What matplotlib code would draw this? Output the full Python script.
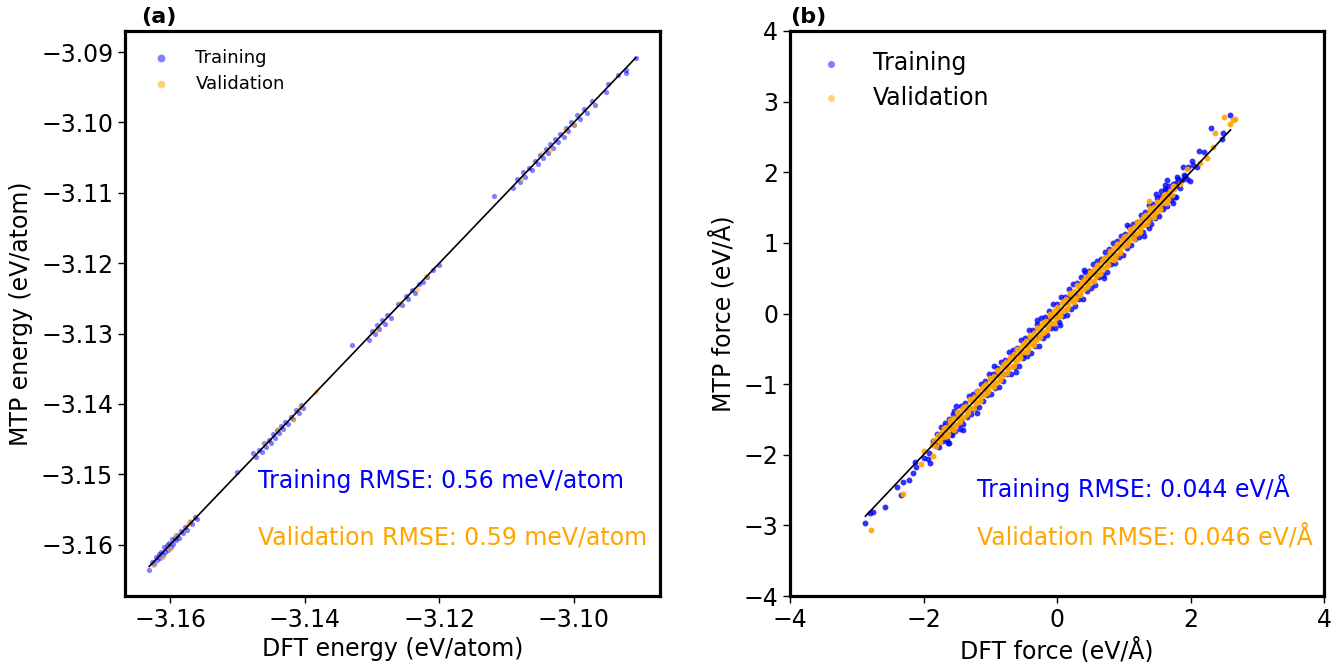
import matplotlib
matplotlib.use("Agg")
import matplotlib.pyplot as plt
import numpy as np

# ---------------- Panel (a): energies (eV/atom) ----------------
train_a_dft = [-3.1631, -3.1627, -3.1624, -3.1621, -3.1619, -3.1617, -3.1615, -3.1613, -3.1611,
               -3.1609, -3.1607, -3.1605, -3.1603, -3.1601, -3.1599, -3.1597, -3.1595, -3.1593,
               -3.1591, -3.1589, -3.1587, -3.1584, -3.1581, -3.1578, -3.1575, -3.1571, -3.1567,
               -3.1563, -3.1560,
               -3.1500,
               -3.1477, -3.1472, -3.1468, -3.1464, -3.1460, -3.1457, -3.1453, -3.1450, -3.1447,
               -3.1444, -3.1441, -3.1438, -3.1435, -3.1432, -3.1429, -3.1425, -3.1421, -3.1417,
               -3.1413, -3.1409, -3.1405, -3.1403,
               -3.1330, -3.1305, -3.1300, -3.1296, -3.1292, -3.1289, -3.1285, -3.1281, -3.1277,
               -3.1272, -3.1262, -3.1255, -3.1250, -3.1246, -3.1241, -3.1236, -3.1230, -3.1224,
               -3.1218, -3.1210, -3.1200,
               -3.1118, -3.1090, -3.1085, -3.1080, -3.1076, -3.1072, -3.1067, -3.1062, -3.1058,
               -3.1054, -3.1050, -3.1046, -3.1042, -3.1038, -3.1035, -3.1031, -3.1028, -3.1024,
               -3.1020, -3.1015, -3.1012, -3.1008, -3.1004, -3.1000, -3.0995, -3.0991, -3.0985,
               -3.0980, -3.0973, -3.0968, -3.0952, -3.0950, -3.0935, -3.0922, -3.0922, -3.0908]
train_a_mtp = [-3.1636, -3.1625, -3.1628, -3.1617, -3.1622, -3.1613, -3.1619, -3.1610, -3.1615,
               -3.1604, -3.1611, -3.1601, -3.1607, -3.1598, -3.1603, -3.1592, -3.1599, -3.1590,
               -3.1594, -3.1586, -3.1591, -3.1581, -3.1584, -3.1575, -3.1579, -3.1568, -3.1570,
               -3.1561, -3.1564,
               -3.1497,
               -3.1470, -3.1476, -3.1466, -3.1469, -3.1455, -3.1461, -3.1451, -3.1455, -3.1443,
               -3.1449, -3.1437, -3.1442, -3.1431, -3.1436, -3.1425, -3.1429, -3.1418, -3.1421,
               -3.1409, -3.1413, -3.1402, -3.1406,
               -3.1316, -3.1309, -3.1296, -3.1301, -3.1288, -3.1293, -3.1281, -3.1286, -3.1273,
               -3.1278, -3.1258, -3.1260, -3.1246, -3.1251, -3.1238, -3.1243, -3.1229, -3.1227,
               -3.1220, -3.1209, -3.1203,
               -3.1105, -3.1093, -3.1080, -3.1084, -3.1070, -3.1077, -3.1064, -3.1068, -3.1055,
               -3.1059, -3.1046, -3.1051, -3.1038, -3.1043, -3.1031, -3.1036, -3.1024, -3.1028,
               -3.1016, -3.1020, -3.1008, -3.1012, -3.1000, -3.1004, -3.0990, -3.0995, -3.0981,
               -3.0986, -3.0970, -3.0975, -3.0957, -3.0945, -3.0932, -3.0925, -3.0929, -3.0909]
valid_a_dft = [-3.1625, -3.1611, -3.1600, -3.1592, -3.1573, -3.1571,
               -3.1459, -3.1440, -3.1418, -3.1407, -3.1383,
               -3.1294, -3.1258, -3.1233, -3.1220,
               -3.1078, -3.1048, -3.1035, -3.1013, -3.1000]
valid_a_mtp = [-3.1629, -3.1617, -3.1606, -3.1587, -3.1571, -3.1566,
               -3.1456, -3.1435, -3.1421, -3.1405, -3.1383,
               -3.1297, -3.1256, -3.1236, -3.1218,
               -3.1080, -3.1044, -3.1039, -3.1010, -3.1004]
line_a = [-3.1631, -3.0908]

# ---------------- Panel (b): forces (eV/Å) ----------------
train_b_dft = [
    # isolated points at the ends of the band
    -2.87, -2.75, -2.80, -2.58, -2.39, -2.30, -2.22, -2.33, -2.15, -2.11, -2.13,
    -1.90, -1.93, -1.99, -1.68, -1.41, -1.58, -1.63, -1.80,
    2.59, 2.30, 2.48, 2.47, 2.12, 2.20, 2.02, 2.04, 1.97, 2.09, 1.89, 1.82, 1.87,
    1.99, 1.78, 1.92, 1.65, 1.62, 1.64, 1.69, 1.74, 1.78,
    # upper edge of the band
    -1.80, -1.74, -1.68, -1.62, -1.56, -1.50, -1.44, -1.38, -1.32, -1.26, -1.20, -1.14,
    -1.08, -1.02, -0.96, -0.90, -0.84, -0.78, -0.72, -0.66, -0.60, -0.54, -0.48, -0.42,
    -0.36, -0.30, -0.24, -0.18, -0.12, -0.06, 0.00, 0.06, 0.12, 0.18, 0.24, 0.30, 0.36,
    0.42, 0.48, 0.54, 0.60, 0.66, 0.72, 0.78, 0.84, 0.90, 0.96, 1.02, 1.08, 1.14, 1.20,
    1.26, 1.32, 1.38, 1.44, 1.50, 1.56, 1.62, 1.68, 1.74, 1.80,
    # lower edge of the band
    -1.77, -1.71, -1.65, -1.59, -1.53, -1.47, -1.41, -1.35, -1.29, -1.23, -1.17, -1.11,
    -1.05, -0.99, -0.93, -0.87, -0.81, -0.75, -0.69, -0.63, -0.57, -0.51, -0.45, -0.39,
    -0.33, -0.27, -0.21, -0.15, -0.09, -0.03, 0.03, 0.09, 0.15, 0.21, 0.27, 0.33, 0.39,
    0.45, 0.51, 0.57, 0.63, 0.69, 0.75, 0.81, 0.87, 0.93, 0.99, 1.05, 1.11, 1.17, 1.23,
    1.29, 1.35, 1.41, 1.47, 1.53, 1.59, 1.65, 1.71, 1.77,
    # core of the band
    -1.92, -1.86, -1.81, -1.74, -1.69, -1.62, -1.57, -1.50, -1.44, -1.36, -1.28,
    -1.18, -1.05, -0.92, -0.80, -0.66, -0.53, -0.40, -0.27, -0.12, 0.02, 0.17,
    0.31, 0.46, 0.60, 0.74, 0.88, 1.02, 1.15, 1.28, 1.40, 1.50, 1.58, 1.65, 1.71,
    1.78, 1.84, 1.90, 1.95,
    # stray points
    -1.52, -1.20, -0.95, -0.62, -0.30, 0.05, 0.40, 0.70, 1.05, 1.30, -1.62, 1.48,
    -1.46, -1.55, 1.56, 1.38]
train_b_mtp = [
    -2.96, -2.81, -2.83, -2.74, -2.46, -2.39, -2.36, -2.57, -2.26, -2.18, -2.10,
    -2.11, -2.06, -2.04, -1.55, -1.65, -1.72, -1.84, -1.86,
    2.81, 2.62, 2.56, 2.47, 2.30, 2.28, 2.16, 2.10, 2.07, 2.07, 2.07, 1.91, 1.89,
    1.87, 1.80, 1.94, 1.89, 1.82, 1.75, 1.68, 1.56, 1.65,
    -1.70, -1.61, -1.59, -1.50, -1.42, -1.40, -1.31, -1.27, -1.17, -1.14, -1.10, -1.00,
    -0.96, -0.86, -0.85, -0.77, -0.69, -0.66, -0.55, -0.52, -0.49, -0.38, -0.35, -0.24,
    -0.24, -0.15, -0.07, -0.05, 0.04, 0.13, 0.14, 0.23, 0.24, 0.34, 0.42, 0.43, 0.51,
    0.59, 0.60, 0.70, 0.74, 0.77, 0.87, 0.91, 1.00, 1.02, 1.10, 1.13, 1.23, 1.27, 1.30,
    1.40, 1.44, 1.53, 1.55, 1.63, 1.66, 1.76, 1.80, 1.84, 1.93,
    -1.89, -1.80, -1.79, -1.70, -1.66, -1.57, -1.56, -1.47, -1.43, -1.34, -1.33, -1.24,
    -1.15, -1.14, -1.05, -1.04, -0.95, -0.86, -0.85, -0.76, -0.75, -0.63, -0.60, -0.56,
    -0.46, -0.46, -0.35, -0.31, -0.21, -0.21, -0.12, -0.04, -0.02, 0.07, 0.11, 0.21, 0.21,
    0.32, 0.36, 0.40, 0.51, 0.55, 0.59, 0.70, 0.72, 0.80, 0.83, 0.93, 0.97, 1.06, 1.08,
    1.16, 1.25, 1.27, 1.35, 1.38, 1.48, 1.52, 1.61, 1.65,
    -1.97, -1.80, -1.88, -1.70, -1.76, -1.58, -1.64, -1.45, -1.52, -1.31, -1.35,
    -1.14, -1.11, -0.86, -0.86, -0.60, -0.59, -0.34, -0.33, -0.07, -0.04, 0.22,
    0.25, 0.52, 0.55, 0.80, 0.82, 1.08, 1.09, 1.34, 1.34, 1.57, 1.52, 1.71, 1.66,
    1.85, 1.78, 1.96, 1.90,
    -1.31, -1.41, -0.74, -0.83, -0.09, -0.16, 0.61, 0.50, 1.26, 1.10, -1.84, 1.69,
    -1.64, -1.38, 1.74, 1.21]
valid_b_dft = [
    -2.78, -2.31, -2.04, -1.86, -1.99,
    2.50, 2.64, 2.67, 2.59, 2.36, 2.33, 2.24, 2.14, 1.95, 1.38, 1.74,
    -1.84, -1.78, -1.72, -1.66, -1.60, -1.54, -1.48, -1.42, -1.36, -1.30, -1.24,
    -1.18, -1.12, -1.06, -1.00, -0.94, -0.88, -0.82, -0.76, -0.70, -0.64, -0.58,
    -0.52, -0.46, -0.40, -0.34, -0.28, -0.22, -0.16, -0.10, -0.04, 0.02, 0.08,
    0.14, 0.20, 0.26, 0.32, 0.38, 0.44, 0.50, 0.56, 0.62, 0.68, 0.74, 0.80, 0.86,
    0.92, 0.98, 1.04, 1.10, 1.16, 1.22, 1.28, 1.34, 1.40, 1.46, 1.52, 1.58, 1.64,
    1.70, 1.76,
    -1.81, -1.75, -1.69, -1.63, -1.57, -1.51, -1.45, -1.39, -1.33, -1.27, -1.21,
    -1.15, -1.09, -1.03, -0.97, -0.91, -0.85, -0.79, -0.73, -0.67, -0.61, -0.55,
    -0.49, -0.43, -0.37, -0.31, -0.25, -0.19, -0.13, -0.07, -0.01, 0.05, 0.11,
    0.17, 0.23, 0.29, 0.35, 0.41, 0.47, 0.53, 0.59, 0.65, 0.71, 0.77, 0.83, 0.89,
    0.95, 1.01, 1.07, 1.13, 1.19, 1.25, 1.31, 1.37, 1.43, 1.49, 1.55, 1.61, 1.67,
    1.73,
    -1.87, -1.76, -1.66, -1.56, -1.46, -1.35, -1.25, -1.15, -1.05, -0.95, -0.85,
    -0.75, -0.65, -0.55, -0.45, -0.35, -0.25, -0.15, -0.05, 0.05, 0.15, 0.25,
    0.35, 0.45, 0.55, 0.65, 0.75, 0.85, 0.95, 1.05, 1.15, 1.25, 1.35, 1.45, 1.55,
    1.65, 1.75, 1.85,
    -1.70, -1.60, -1.50, -1.40, -1.30, -1.20, -1.10, -1.00, -0.90, -0.80, -0.70,
    -0.60, -0.50, -0.40, -0.30, -0.20, -0.10, 0.00, 0.10, 0.20, 0.30, 0.40, 0.50,
    0.60, 0.70, 0.80, 0.90, 1.00, 1.10, 1.20, 1.30, 1.40, 1.50, 1.60,
    -1.65, -1.55, -1.45, -1.35, -1.25, -1.15, -1.05, -0.95, -0.85, -0.75, -0.65,
    -0.55, -0.45, -0.35, -0.25, -0.15, -0.05, 0.05, 0.15, 0.25, 0.35, 0.45, 0.55,
    0.65, 0.75, 0.85, 0.95, 1.05, 1.15, 1.25, 1.35, 1.45, 1.55, 1.65]
valid_b_mtp = [
    -3.06, -2.55, -2.13, -2.02, -1.94,
    2.78, 2.74, 2.75, 2.68, 2.55, 2.36, 2.20, 2.13, 2.04, 1.60, 1.80,
    -1.79, -1.72, -1.68, -1.60, -1.55, -1.48, -1.43, -1.35, -1.31, -1.23, -1.18,
    -1.12, -1.05, -1.00, -0.93, -0.88, -0.81, -0.76, -0.69, -0.64, -0.57, -0.51,
    -0.46, -0.39, -0.33, -0.28, -0.21, -0.15, -0.10, -0.03, 0.03, 0.08, 0.15,
    0.20, 0.27, 0.32, 0.39, 0.44, 0.51, 0.56, 0.63, 0.68, 0.75, 0.80, 0.86, 0.93,
    0.98, 1.04, 1.10, 1.16, 1.22, 1.27, 1.34, 1.39, 1.45, 1.51, 1.57, 1.62, 1.69,
    1.74, 1.80,
    -1.87, -1.82, -1.75, -1.70, -1.63, -1.58, -1.51, -1.46, -1.39, -1.34, -1.27,
    -1.22, -1.15, -1.10, -1.03, -0.98, -0.91, -0.86, -0.79, -0.74, -0.67, -0.62,
    -0.55, -0.50, -0.43, -0.38, -0.31, -0.26, -0.19, -0.14, -0.07, -0.02, 0.05,
    0.10, 0.17, 0.22, 0.29, 0.34, 0.41, 0.46, 0.53, 0.58, 0.65, 0.70, 0.77, 0.82,
    0.89, 0.95, 1.01, 1.07, 1.13, 1.19, 1.25, 1.31, 1.37, 1.44, 1.50, 1.56, 1.62,
    1.68,
    -1.86, -1.77, -1.65, -1.57, -1.45, -1.36, -1.24, -1.16, -1.04, -0.96, -0.84,
    -0.76, -0.64, -0.56, -0.44, -0.36, -0.24, -0.16, -0.04, 0.04, 0.16, 0.24,
    0.36, 0.44, 0.56, 0.64, 0.76, 0.84, 0.96, 1.04, 1.16, 1.24, 1.36, 1.44, 1.56,
    1.64, 1.76, 1.84,
    -1.62, -1.51, -1.40, -1.32, -1.21, -1.10, -1.02, -0.91, -0.80, -0.72, -0.61,
    -0.50, -0.42, -0.31, -0.20, -0.12, -0.01, 0.09, 0.18, 0.29, 0.40, 0.48, 0.59,
    0.69, 0.78, 0.89, 0.99, 1.08, 1.19, 1.29, 1.38, 1.49, 1.58, 1.68,
    -1.74, -1.65, -1.54, -1.43, -1.34, -1.24, -1.13, -1.04, -0.94, -0.84, -0.74,
    -0.63, -0.54, -0.44, -0.33, -0.24, -0.14, -0.04, 0.07, 0.16, 0.26, 0.37, 0.46,
    0.56, 0.67, 0.76, 0.86, 0.97, 1.06, 1.16, 1.27, 1.36, 1.47, 1.57]
line_b = [-2.87, 2.60]

train_rmse_a = "Training RMSE: 0.56 meV/atom"
valid_rmse_a = "Validation RMSE: 0.59 meV/atom"
train_rmse_b = "Training RMSE: 0.044 eV/Å"
valid_rmse_b = "Validation RMSE: 0.046 eV/Å"

BLUE = "#0000ff"
ORANGE = "#ffa500"

W, H = 1338, 662
fig = plt.figure(figsize=(W / 100, H / 100), dpi=100)
ax1 = fig.add_axes([125 / W, 1 - 596 / H, 535 / W, 565 / H])
ax2 = fig.add_axes([790 / W, 1 - 596 / H, 534 / W, 565 / H])

for ax in (ax1, ax2):
    for sp in ax.spines.values():
        sp.set_linewidth(2.3)
    ax.tick_params(labelsize=17, length=5, width=1.0)

# Panel a
ax1.scatter(train_a_dft, train_a_mtp, s=14, color=BLUE, alpha=0.5, lw=0, label="Training")
ax1.scatter(valid_a_dft, valid_a_mtp, s=14, color=ORANGE, alpha=0.5, lw=0, label="Validation")
ax1.plot(line_a, line_a, color="black", lw=1.2, zorder=5)
ax1.set_xlim(-3.1667, -3.0872)
ax1.set_ylim(-3.1673, -3.0870)
ax1.set_xticks([-3.16, -3.14, -3.12, -3.10])
ax1.set_yticks([-3.16, -3.15, -3.14, -3.13, -3.12, -3.11, -3.10, -3.09])
ax1.set_xlabel("DFT energy (eV/atom)", fontsize=17, labelpad=4)
ax1.set_ylabel("MTP energy (eV/atom)", fontsize=17, labelpad=6)
leg1 = ax1.legend(loc="upper left", frameon=False, fontsize=13, handletextpad=0.9,
                  labelspacing=0.45, borderaxespad=0.6, bbox_to_anchor=(0.0, 1.0),
                  markerscale=1.5)
for h in leg1.legend_handles:
    h.set_alpha(0.5)
ax1.text(0.249, 0.2035, train_rmse_a, transform=ax1.transAxes, color=BLUE, fontsize=17,
         va="center", ha="left")
ax1.text(0.249, 0.104, valid_rmse_a, transform=ax1.transAxes, color=ORANGE, fontsize=17,
         va="center", ha="left")
ax1.text(0.03, 1.024, "(a)", transform=ax1.transAxes, fontsize=16, fontweight="bold",
         va="center", ha="left")

# Panel b
ax2.scatter(train_b_dft, train_b_mtp, s=18, color=BLUE, alpha=0.8, lw=0, label="Training")
ax2.scatter(valid_b_dft, valid_b_mtp, s=18, color=ORANGE, alpha=0.9, lw=0, label="Validation")
ax2.plot(line_b, line_b, color="black", lw=1.2, zorder=5)
ax2.set_xlim(-4, 4)
ax2.set_ylim(-4, 4)
ax2.set_xticks([-4, -2, 0, 2, 4])
ax2.set_yticks([-4, -3, -2, -1, 0, 1, 2, 3, 4])
ax2.set_xlabel("DFT force (eV/Å)", fontsize=17, labelpad=4)
ax2.set_ylabel("MTP force (eV/Å)", fontsize=17, labelpad=6)
leg2 = ax2.legend(loc="upper left", frameon=False, fontsize=17, handletextpad=0.78,
                  labelspacing=0.45, borderaxespad=0.45, bbox_to_anchor=(-0.005, 1.0),
                  markerscale=1.2)
for h in leg2.legend_handles:
    h.set_alpha(0.5)
ax2.text(0.350, 0.191, train_rmse_b, transform=ax2.transAxes, color=BLUE, fontsize=17,
         va="center", ha="left")
ax2.text(0.350, 0.104, valid_rmse_b, transform=ax2.transAxes, color=ORANGE, fontsize=17,
         va="center", ha="left")
ax2.text(0.0, 1.024, "(b)", transform=ax2.transAxes, fontsize=16, fontweight="bold",
         va="center", ha="left")

fig.savefig("out.png", dpi=100)
